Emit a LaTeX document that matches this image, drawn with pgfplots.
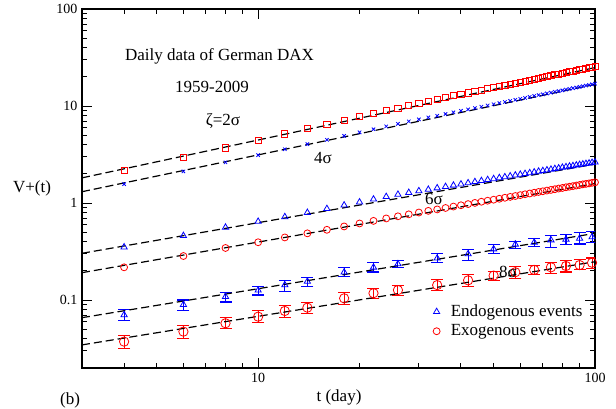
\documentclass[border=0pt]{standalone}
\usepackage{fontspec}
\setmainfont{Liberation Serif}
\usepackage{pgfplots}
\usepackage{pgfplotstable}
\pgfplotsset{compat=1.18}

\pgfplotstableread{
t v
4 2.17
6 2.97
8 3.71
10 4.45
12 5.16
14 5.86
16 6.53
18 7.16
20 7.78
22 8.38
24 8.97
26 9.55
28 10.12
30 10.69
32 11.25
34 11.75
36 12.25
38 12.76
40 13.21
42 13.68
44 14.16
46 14.62
48 15.07
50 15.52
52 15.96
54 16.41
56 16.83
58 17.26
60 17.70
62 18.11
64 18.54
66 18.97
68 19.41
70 19.77
72 20.18
74 20.61
76 20.99
78 21.38
80 21.78
82 22.18
84 22.54
86 22.96
88 23.33
90 23.71
92 24.10
94 24.49
96 24.89
98 25.23
100 25.64
}\sqtwo

\pgfplotstableread{
t v
4 1.57
6 2.12
8 2.63
10 3.12
12 3.59
14 4.05
16 4.49
18 4.93
20 5.36
22 5.77
24 6.17
26 6.56
28 6.95
30 7.29
32 7.64
34 7.94
36 8.28
38 8.61
40 8.93
42 9.23
44 9.53
46 9.84
48 10.14
50 10.44
52 10.73
54 11.02
56 11.30
58 11.59
60 11.86
62 12.13
64 12.42
66 12.71
68 12.97
70 13.21
72 13.49
74 13.74
76 14.03
78 14.26
80 14.52
82 14.79
84 15.03
86 15.28
88 15.52
90 15.78
92 16.03
94 16.26
96 16.52
98 16.75
100 17.02
}\xfour

\pgfplotstableread{
t v
4 0.352
6 0.461
8 0.562
10 0.646
12 0.721
14 0.798
16 0.875
18 0.951
20 1.023
22 1.096
24 1.164
26 1.227
28 1.282
30 1.334
32 1.380
34 1.429
36 1.476
38 1.524
40 1.567
42 1.611
44 1.656
46 1.698
48 1.738
50 1.778
52 1.820
54 1.858
56 1.897
58 1.936
60 1.972
62 2.009
64 2.046
66 2.084
68 2.123
70 2.153
72 2.188
74 2.223
76 2.259
78 2.291
80 2.328
82 2.360
84 2.393
86 2.421
88 2.455
90 2.489
92 2.518
94 2.547
96 2.576
98 2.612
100 2.642
}\trisix

\pgfplotstableread{
t v
4 0.218
6 0.285
8 0.345
10 0.395
12 0.443
14 0.488
16 0.531
18 0.575
20 0.617
22 0.656
24 0.695
26 0.731
28 0.766
30 0.800
32 0.832
34 0.861
36 0.891
38 0.921
40 0.950
42 0.977
44 1.005
46 1.033
48 1.059
50 1.084
52 1.109
54 1.135
56 1.159
58 1.183
60 1.208
62 1.233
64 1.256
66 1.279
68 1.303
70 1.324
72 1.346
74 1.368
76 1.390
78 1.413
80 1.432
82 1.455
84 1.476
86 1.496
88 1.517
90 1.538
92 1.560
94 1.578
96 1.596
98 1.618
100 1.637
}\cirsix

\pgfplotstableread{
t v ep em
4 0.0705 0.0093 0.0094
6 0.0899 0.0105 0.0119
8 0.1086 0.0119 0.0128
10 0.1264 0.0126 0.0134
12 0.1433 0.0177 0.0193
14 0.156 0.017 0.017
18 0.194 0.024 0.019
22 0.218 0.025 0.023
26 0.236 0.019 0.018
34 0.270 0.031 0.027
42 0.299 0.037 0.044
50 0.336 0.040 0.032
58 0.376 0.030 0.037
66 0.394 0.036 0.039
74 0.416 0.045 0.066
82 0.423 0.049 0.051
90 0.433 0.070 0.054
98 0.447 0.065 0.056
}\endoeight

\pgfplotstableread{
t v ep em
4 0.0374 0.0057 0.0059
6 0.0474 0.0069 0.0068
8 0.0578 0.0078 0.0064
10 0.0676 0.0098 0.0089
12 0.0774 0.0104 0.0118
14 0.0837 0.0114 0.0116
18 0.1045 0.0145 0.0138
22 0.118 0.014 0.015
26 0.127 0.016 0.016
34 0.143 0.021 0.018
42 0.160 0.025 0.022
50 0.179 0.017 0.020
58 0.194 0.027 0.026
66 0.205 0.025 0.023
74 0.218 0.025 0.029
82 0.225 0.030 0.030
90 0.230 0.034 0.025
98 0.243 0.029 0.032
}\exoeight

\pgfplotstableread{
t v
3 1.82
100 24.9
}\lineA
\pgfplotstableread{
t v
3 1.31
100 16.7
}\lineB
\pgfplotstableread{
t v
3 0.304
100 2.52
}\lineC
\pgfplotstableread{
t v
3 0.192
100 1.59
}\lineD
\pgfplotstableread{
t v
3 0.066
100 0.488
}\lineE
\pgfplotstableread{
t v
3 0.0346
100 0.249
}\lineF

\begin{document}
\begin{tikzpicture}
\begin{axis}[
  at={(0,0)}, anchor=south west,
  scale only axis, width=384.75pt, height=269.25pt,
  xmode=log, ymode=log,
  xmin=3, xmax=100, ymin=0.02, ymax=100,
  xtick={10,100}, xticklabels={10,100},
  ytick={0.1,1,10,100}, yticklabels={0.1,1,10,100},
  minor xtick={4,5,6,7,8,9,20,30,40,50,60,70,80,90},
  minor ytick={0.03,0.04,0.05,0.06,0.07,0.08,0.09,0.2,0.3,0.4,0.5,0.6,0.7,0.8,0.9,2,3,4,5,6,7,8,9,20,30,40,50,60,70,80,90},
  tick align=inside,
  major tick length=7.5pt, minor tick length=3.75pt,
  axis line style={line width=1.1pt},
  every tick/.style={black, line width=0.75pt},
  ticklabel style={font=\fontsize{10.5}{12}\selectfont},
  /pgf/number format/assume math mode=true,
  legend style={draw=none, fill=none, at={(axis description cs:0.684,0.184)}, anchor=north west,
    font=\fontsize{12.75}{15}\selectfont, inner sep=0pt, row sep=0.5pt},
  legend cell align=left,
]
\addlegendimage{only marks, mark=triangle, blue, mark size=2.7pt, mark options={line width=0.6pt}}
\addlegendentry{\hspace{6pt}Endogenous events}
\addlegendimage{only marks, mark=o, red, mark size=2.6pt, mark options={line width=0.6pt}}
\addlegendentry{\hspace{6pt}Exogenous events}
\addplot[forget plot, only marks, mark=square, red, mark size=2.3pt, mark options={line width=0.6pt}] table[x=t,y=v]{\sqtwo};
\addplot[forget plot, only marks, mark=x, blue, mark size=1.8pt, mark options={line width=0.6pt}] table[x=t,y=v]{\xfour};
\addplot[forget plot, only marks, mark=triangle, blue, mark size=2.7pt, mark options={line width=0.6pt}] table[x=t,y=v]{\trisix};
\addplot[forget plot, only marks, mark=o, red, mark size=2.6pt, mark options={line width=0.6pt}] table[x=t,y=v]{\cirsix};
\addplot[forget plot, only marks, mark=triangle, blue, mark size=2.7pt, mark options={line width=0.6pt},
  error bars/.cd, y dir=both, y explicit, error bar style={line width=0.8pt, blue},
  error mark options={rotate=90, mark size=4.5pt, line width=0.8pt, blue}]
  table[x=t,y=v,y error plus=ep,y error minus=em]{\endoeight};
\addplot[forget plot, only marks, mark=o, red, mark size=3.5pt, mark options={line width=0.6pt},
  error bars/.cd, y dir=both, y explicit, error bar style={line width=0.8pt, red},
  error mark options={rotate=90, mark size=4.5pt, line width=0.8pt, red}]
  table[x=t,y=v,y error plus=ep,y error minus=em]{\exoeight};
\addplot[forget plot, black, line width=0.9pt, dash pattern=on 6pt off 3pt] table[x=t,y=v]{\lineA};
\addplot[forget plot, black, line width=0.9pt, dash pattern=on 6pt off 3pt] table[x=t,y=v]{\lineB};
\addplot[forget plot, black, line width=0.9pt, dash pattern=on 6pt off 3pt] table[x=t,y=v]{\lineC};
\addplot[forget plot, black, line width=0.9pt, dash pattern=on 6pt off 3pt] table[x=t,y=v]{\lineD};
\addplot[forget plot, black, line width=0.9pt, dash pattern=on 6pt off 3pt] table[x=t,y=v]{\lineE};
\addplot[forget plot, black, line width=0.9pt, dash pattern=on 6pt off 3pt] table[x=t,y=v]{\lineF};
\end{axis}
\node[font=\fontsize{12.75}{15}\selectfont] at (103.1pt,234pt) {Daily data of German DAX};
\node[font=\fontsize{12.75}{15}\selectfont] at (97.5pt,210.75pt) {1959-2009};
\node[font=\fontsize{12.75}{15}\selectfont] at (105.75pt,185.25pt) {ζ=2σ};
\node[font=\fontsize{12.75}{15}\selectfont] at (180.75pt,157.5pt) {4σ};
\node[font=\fontsize{12.75}{15}\selectfont] at (264pt,126.75pt) {6σ};
\node[font=\fontsize{12.75}{15}\selectfont] at (319.5pt,72pt) {8σ};
\node[font=\fontsize{12.75}{15}\selectfont] at (-37.5pt,135pt) {V+(t)};
\node[font=\fontsize{12.75}{15}\selectfont] at (192.75pt,-21.75pt) {t (day)};
\node[font=\fontsize{12.75}{15}\selectfont, inner sep=0pt, anchor=south] at (-9pt,-30.6pt) {(b)};
\pgfresetboundingbox
\path (-61.5pt,-30.75pt) rectangle (400.5pt,276pt);
\end{tikzpicture}
\end{document}
